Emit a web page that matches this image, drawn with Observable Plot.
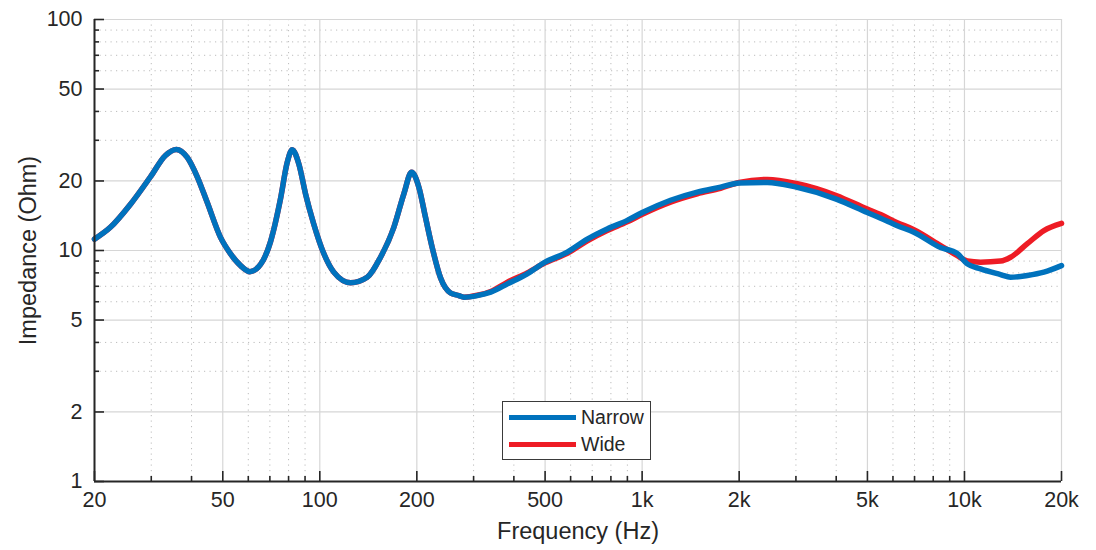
<!DOCTYPE html>
<html>
<head>
<meta charset="utf-8">
<script src="https://cdn.jsdelivr.net/npm/d3@7"></script>
<script src="https://cdn.jsdelivr.net/npm/@observablehq/plot@0.6"></script>
<style>
  html, body { margin: 0; padding: 0; background: #fff; }
  #wrap { position: relative; width: 1096px; height: 550px; font-family: "Liberation Sans", Arial, sans-serif; }
  #legend { position: absolute; left: 502px; top: 401px; width: 149px; height: 59px; border: 1px solid #3a3a3a; background: #fff; box-sizing: border-box; }
  .lg-row { position: absolute; left: 6px; display: flex; align-items: center; }
  .lg-line { width: 67px; height: 5px; margin-right: 5px; }
  .lg-text { font-size: 19.5px; color: #262626; }
</style>
</head>
<body>
<div id="wrap"><div id="legend"></div></div>
<script>
// Frequency (Hz) sample points
const freq = [20, 22.4, 25.9, 29.8, 33.2, 35.9, 38.8, 41.7, 44.7, 49.2, 52.8, 56.8, 60.7, 65.5, 70.3, 75.5, 79.2, 82.1, 86.1, 90.3, 95.8, 102.9, 110.5, 124.6, 140.3, 154.3, 169.7, 182.3, 192.6, 202.9, 212.8, 223.2, 237, 254.5, 270, 280, 308, 339, 382, 440, 500, 586, 676, 779, 899, 1001, 1225, 1483, 1751, 2000, 2446, 3008, 4002, 4996, 5494, 6188, 6968, 8430, 9498, 10204, 11220, 12942, 13900, 15668, 17638, 20000];
// Impedance (Ohm) – Narrow
const zNarrow = [11.2, 12.6, 15.9, 20.8, 25.8, 27.4, 25.3, 20.8, 16.2, 11.4, 9.7, 8.6, 8.1, 8.7, 10.9, 16.7, 24.0, 27.3, 23.7, 17.6, 13.0, 9.7, 8.06, 7.25, 7.66, 9.35, 12.6, 17.6, 21.8, 18.8, 13.9, 10.3, 7.6, 6.55, 6.38, 6.28, 6.38, 6.6, 7.17, 7.93, 8.9, 9.84, 11.2, 12.4, 13.5, 14.6, 16.5, 17.9, 18.8, 19.6, 19.7, 18.8, 16.7, 14.6, 13.8, 12.8, 12.0, 10.3, 9.7, 8.75, 8.33, 7.87, 7.66, 7.8, 8.06, 8.6];
// Impedance (Ohm) – Wide
const zWide = [11.2, 12.6, 15.9, 20.8, 25.8, 27.4, 25.3, 20.8, 16.2, 11.4, 9.7, 8.6, 8.1, 8.7, 10.9, 16.7, 24.0, 27.3, 23.7, 17.6, 13.0, 9.7, 8.06, 7.25, 7.66, 9.35, 12.6, 17.6, 21.8, 18.8, 13.9, 10.3, 7.6, 6.55, 6.38, 6.28, 6.4, 6.65, 7.3, 8.0, 8.85, 9.72, 11.0, 12.2, 13.3, 14.35, 16.2, 17.6, 18.6, 19.7, 20.3, 19.5, 17.3, 15.1, 14.3, 13.2, 12.3, 10.5, 9.5, 9.0, 8.9, 9.0, 9.35, 10.7, 12.2, 13.1];

const seriesNames = ["Narrow", "Wide"];
const seriesColors = ["#0072BD", "#EE1C25"];

// Tick values
const xMajor = [20, 50, 100, 200, 500, 1000, 2000, 5000, 10000, 20000];
const xMajorLabels = ["20", "50", "100", "200", "500", "1k", "2k", "5k", "10k", "20k"];
const xMinor = [30, 40, 60, 70, 80, 90, 300, 400, 600, 700, 800, 900, 3000, 4000, 6000, 7000, 8000, 9000];
const yMajor = [1, 2, 5, 10, 20, 50, 100];
const yMajorLabels = ["1", "2", "5", "10", "20", "50", "100"];
const yMinor = [3, 4, 6, 7, 8, 9, 30, 40, 60, 70, 80, 90];

const narrow = freq.map((f, i) => ({f, z: zNarrow[i]}));
const wide = freq.map((f, i) => ({f, z: zWide[i]}));

const W = 1096, H = 550;
const mL = 94, mR = 35, mT = 19, mB = 69;
const innerW = W - mL - mR, innerH = H - mT - mB;
const axisColor = "#262626";

const chart = Plot.plot({
  width: W, height: H,
  marginLeft: mL, marginRight: mR, marginTop: mT, marginBottom: mB,
  x: {type: "log", domain: [20, 20000], axis: null},
  y: {type: "log", domain: [1, 100], axis: null},
  style: {fontFamily: "'Liberation Sans', Arial, sans-serif", background: "white"},
  marks: [
    // minor grid
    Plot.ruleX(xMinor, {stroke: "#bcbcbc", strokeWidth: 1, strokeDasharray: "1.2,4.3"}),
    Plot.ruleY(yMinor, {stroke: "#bcbcbc", strokeWidth: 1, strokeDasharray: "1.2,4.3"}),
    // major grid
    Plot.ruleX(xMajor, {stroke: "#d6d6d6", strokeWidth: 1.2}),
    Plot.ruleY(yMajor, {stroke: "#d6d6d6", strokeWidth: 1.2}),
    // curves
    Plot.line(wide, {x: "f", y: "z", stroke: seriesColors[1], strokeWidth: 5.5, curve: "monotone-x", strokeLinejoin: "round", strokeLinecap: "round"}),
    Plot.line(narrow, {x: "f", y: "z", stroke: seriesColors[0], strokeWidth: 5.5, curve: "monotone-x", strokeLinejoin: "round", strokeLinecap: "round"}),
    // inward ticks
    Plot.ruleX(xMajor, {stroke: axisColor, strokeWidth: 1.6, insetTop: innerH - 10}),
    Plot.ruleX(xMinor, {stroke: axisColor, strokeWidth: 1.6, insetTop: innerH - 5}),
    Plot.ruleY(yMajor, {stroke: axisColor, strokeWidth: 1.6, insetRight: innerW - 10}),
    Plot.ruleY(yMinor, {stroke: axisColor, strokeWidth: 1.6, insetRight: innerW - 5}),
    // axis lines
    Plot.ruleX([20], {stroke: axisColor, strokeWidth: 2}),
    Plot.ruleY([1], {stroke: axisColor, strokeWidth: 2}),
    // tick labels
    Plot.text(xMajor, {x: d => d, frameAnchor: "bottom", dy: 25, text: (d, i) => xMajorLabels[i], fontSize: 21.5, fill: axisColor}),
    Plot.text(yMajor, {y: d => d, frameAnchor: "left", dx: -12, textAnchor: "end", text: (d, i) => yMajorLabels[i], fontSize: 21.5, fill: axisColor}),
    // axis titles
    Plot.text(["Frequency (Hz)"], {frameAnchor: "bottom", dy: 57, text: d => d, fontSize: 23.5, fill: axisColor}),
    Plot.text(["Impedance (Ohm)"], {frameAnchor: "left", dx: -66, rotate: -90, textAnchor: "middle", text: d => d, fontSize: 23.5, fill: axisColor})
  ]
});

const wrap = document.getElementById("wrap");
wrap.insertBefore(chart, wrap.firstChild);

const legend = document.getElementById("legend");
seriesNames.forEach((name, i) => {
  const row = document.createElement("div");
  row.className = "lg-row";
  row.style.top = (i === 0 ? 4 : 31) + "px";
  row.innerHTML = `<div class="lg-line" style="background:${seriesColors[i]}"></div><span class="lg-text">${name}</span>`;
  legend.appendChild(row);
});
</script>
</body>
</html>
